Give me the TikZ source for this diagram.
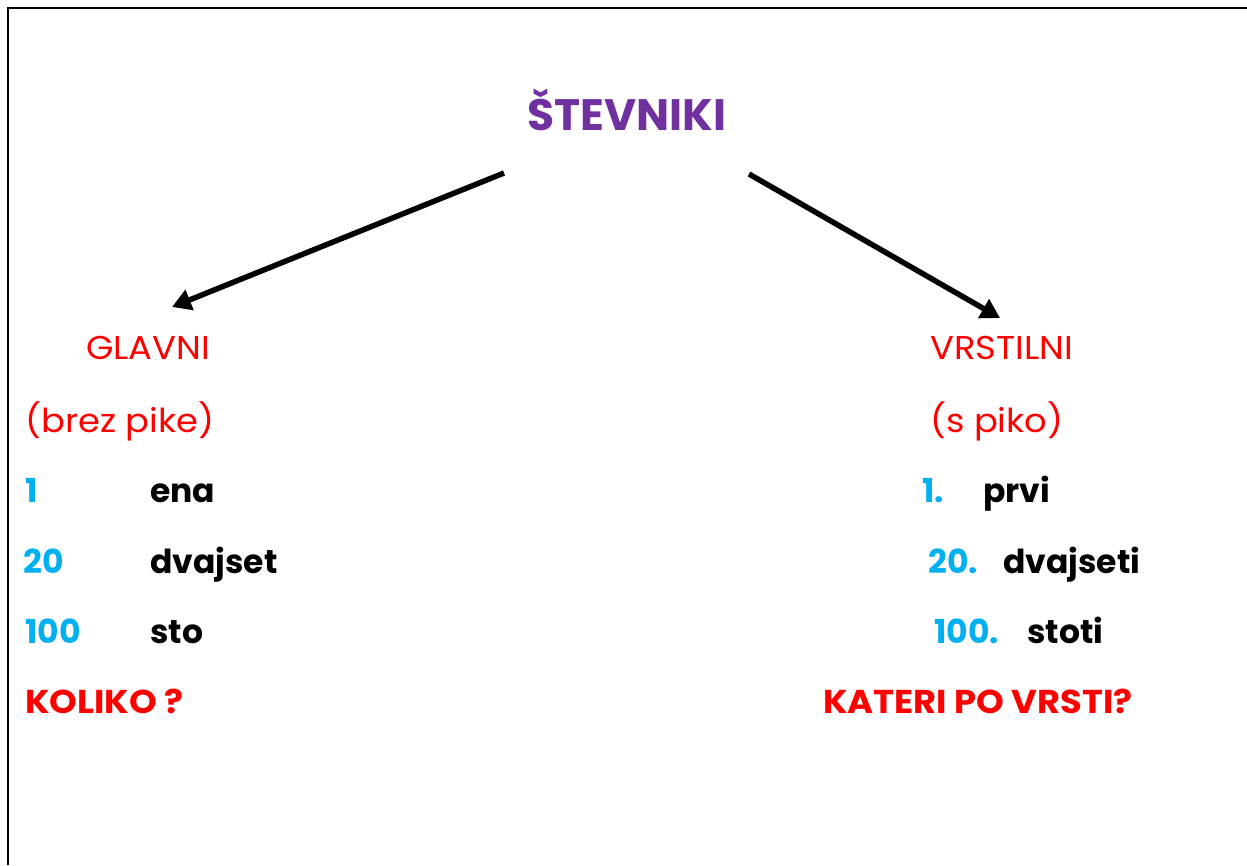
\documentclass[tikz,border=0pt]{standalone}
\usepackage{fontspec}
\setmainfont{Poppins}
\newfontfamily\widefont[FakeStretch=1.07]{Poppins}
\newfontfamily\capsfont[FakeStretch=1.07]{Poppins}
\usetikzlibrary{arrows.meta}
\definecolor{titlepurple}{HTML}{7030A0}
\definecolor{numblue}{HTML}{00B0F0}
\tikzstyle{title}=[font=\bfseries\fontsize{44}{44}\selectfont, text=titlepurple, inner sep=0pt, anchor=base]
\tikzstyle{head}=[font=\widefont\fontsize{33}{33}\selectfont, text=red, inner sep=0pt, anchor=base west]
\tikzstyle{num}=[font=\bfseries\fontsize{33}{33}\selectfont, text=numblue, inner sep=0pt, anchor=base west]
\tikzstyle{word}=[font=\bfseries\fontsize{33}{33}\selectfont, text=black, inner sep=0pt, anchor=base west]
\tikzstyle{question}=[font=\capsfont\bfseries\fontsize{33}{33}\selectfont, text=red, inner sep=0pt, anchor=base west]
\tikzstyle{arrow}=[draw=black, line width=5.5pt, >={Triangle[length=19pt,width=21pt]}]

\begin{document}
\begin{tikzpicture}[x=1pt, y=-1pt]
		   \useasboundingbox (0, 0) rectangle (1247, 865);
		   \draw [line width=1.5pt] (8, 865) -- (8, 8);
		   \draw [line width=2pt] (7.25, 8) -- (1247, 8);
		   \begin{scope}
			   \node (0) at (627, 130)[title] {ŠTEVNIKI};
			   \node (1) at (86, 359)[head] {GLAVNI};
			   \node (2) at (25, 432)[head] {(brez pike)};
			   \node (3) at (25, 502)[num] {1};
			   \node (4) at (150, 502)[word] {ena};
			   \node (5) at (23, 573)[num] {20};
			   \node (6) at (150, 573)[word] {dvajset};
			   \node (7) at (25, 643)[num] {100};
			   \node (8) at (150, 643)[word] {sto};
			   \node (9) at (25, 713)[question] {KOLIKO ?};
			   \node (10) at (930, 359)[head] {VRSTILNI};
			   \node (11) at (930, 432)[head] {(s piko)};
			   \node (12) at (922, 502)[num] {1.};
			   \node (13) at (983, 502)[word] {prvi};
			   \node (14) at (928, 573)[num] {20.};
			   \node (15) at (1003, 573)[word] {dvajseti};
			   \node (16) at (934, 643)[num] {100.};
			   \node (17) at (1027, 643)[word] {stoti};
			   \node (18) at (823, 713)[question] {KATERI PO VRSTI?};
			   \coordinate (a) at (504, 173);
			   \coordinate (b) at (172, 307);
			   \coordinate (c) at (749, 174);
			   \coordinate (d) at (1000, 318);
		   \end{scope}
		   \begin{scope}
			   \draw [arrow, ->] (a) -- (b);
			   \draw [arrow, ->] (c) -- (d);
		   \end{scope}
	   \end{tikzpicture}
\end{document}
